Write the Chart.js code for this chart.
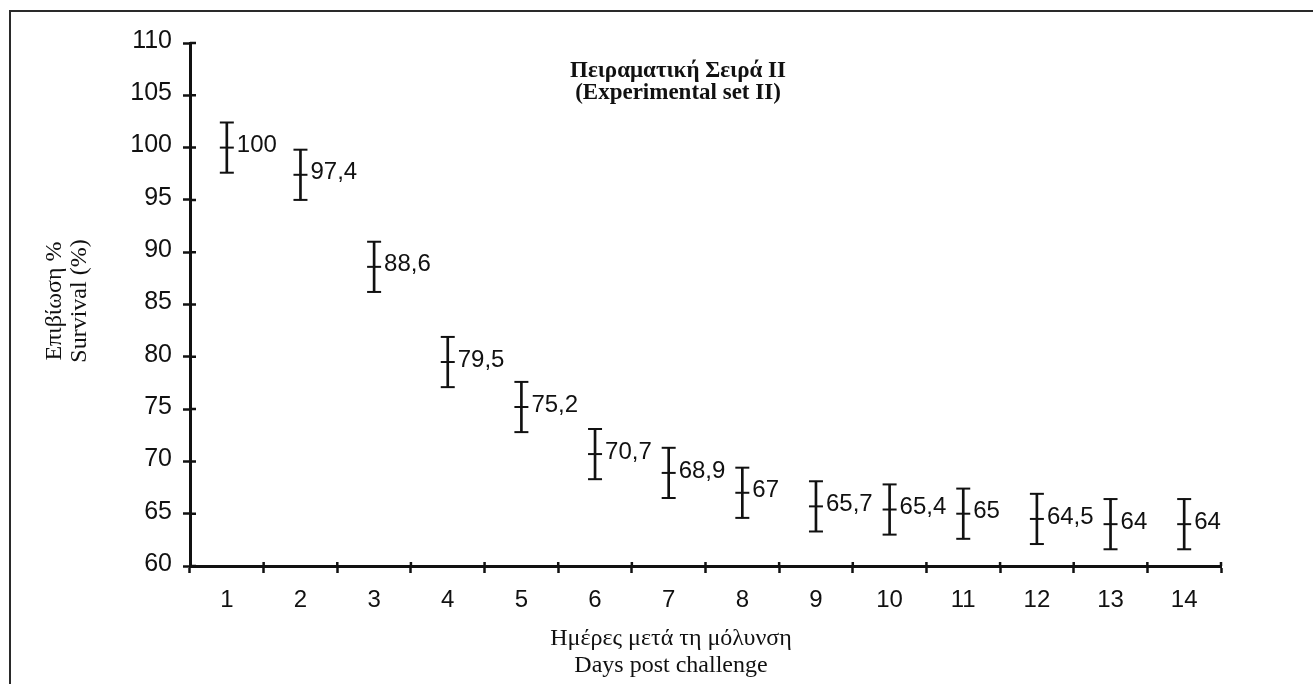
<!DOCTYPE html>
<html>
<head>
<meta charset="utf-8">
<title>Survival – Experimental set II</title>
<script src="https://cdn.jsdelivr.net/npm/chart.js@4.4.1/dist/chart.umd.min.js"></script>
<style>
  html, body { margin: 0; padding: 0; background: #fff; }
  canvas { display: block; }
</style>
</head>
<body>
<canvas id="survival" width="1313" height="684"></canvas>
<script>
// Days after infection (x categories)
const days = ['1', '2', '3', '4', '5', '6', '7', '8', '9', '10', '11', '12', '13', '14'];
// Mean survival per day (%)
const survival = [100, 97.4, 88.6, 79.5, 75.2, 70.7, 68.9, 67, 65.7, 65.4, 65, 64.5, 64, 64];
// Half-width of each error bar (%)
const errors = [2.4, 2.4, 2.4, 2.4, 2.4, 2.4, 2.4, 2.4, 2.4, 2.4, 2.4, 2.4, 2.4, 2.4];
// Value axis range and tick step
const yMin = 60;
const yMax = 110;
const yStep = 5;

const chartTitle = ['Πειραματική Σειρά II', '(Experimental set II)'];
const xTitle = ['Ημέρες μετά τη μόλυνση', 'Days post challenge'];
const yTitle = ['Επιβίωση %', 'Survival (%)'];

const ink = '#111';
const sans = '"Liberation Sans", Arial, Helvetica, sans-serif';
const serif = '"Liberation Serif", "Times New Roman", Times, serif';

const upper = survival.map((v, i) => v + errors[i]);
const lower = survival.map((v, i) => v - errors[i]);
const fmt = v => String(v).replace('.', ',');

// Short horizontal marks (caps and means) drawn as line-shaped points
const markStyle = {
  type: 'line',
  showLine: false,
  pointStyle: 'line',
  pointRadius: 7,
  pointHoverRadius: 7,
  pointBorderWidth: 2,
  pointBorderColor: ink,
  borderColor: ink,
  backgroundColor: ink
};

// Frame, titles and value labels
const decorations = {
  id: 'decorations',
  beforeDraw(chart) {
    const { ctx, width, height } = chart;
    ctx.save();
    ctx.fillStyle = '#fff';
    ctx.fillRect(0, 0, width, height);
    ctx.strokeStyle = '#2a2a2a';
    ctx.lineWidth = 2;
    ctx.beginPath();
    ctx.moveTo(10, height);
    ctx.lineTo(10, 11);
    ctx.lineTo(width, 11);
    ctx.stroke();
    ctx.restore();
  },
  afterDraw(chart) {
    const { ctx } = chart;
    ctx.save();
    ctx.fillStyle = ink;

    // chart title
    ctx.textAlign = 'center';
    ctx.textBaseline = 'alphabetic';
    ctx.font = 'bold 23px ' + serif;
    ctx.fillText(chartTitle[0], 678, 77);
    ctx.fillText(chartTitle[1], 678, 99);

    // x axis title
    ctx.font = '24px ' + serif;
    ctx.fillText(xTitle[0], 671, 645);
    ctx.fillText(xTitle[1], 671, 672);

    // y axis title (rotated)
    ctx.save();
    ctx.translate(0, 301);
    ctx.rotate(-Math.PI / 2);
    ctx.textBaseline = 'middle';
    ctx.fillText(yTitle[0], 0, 55);
    ctx.fillText(yTitle[1], 0, 80);
    ctx.restore();

    // value labels beside each mean mark
    ctx.font = '24px ' + sans;
    ctx.textAlign = 'left';
    ctx.textBaseline = 'middle';
    const meta = chart.getDatasetMeta(3);
    meta.data.forEach((pt, i) => {
      ctx.fillText(fmt(survival[i]), pt.x + 10, pt.y - 2);
    });
    ctx.restore();
  }
};

// Tick marks that also reach a little into the plot area
const innerTicks = {
  id: 'innerTicks',
  afterDraw(chart) {
    const { ctx, chartArea: a, scales: { x, y } } = chart;
    ctx.save();
    ctx.strokeStyle = ink;
    ctx.lineWidth = 2.5;
    ctx.beginPath();
    y.ticks.forEach((t, i) => {
      const py = y.getPixelForTick(i);
      ctx.moveTo(a.left, py);
      ctx.lineTo(a.left + 6, py);
    });
    for (let i = 1; i <= days.length; i++) {
      const px = x.getPixelForValue(i - 0.5);
      ctx.moveTo(px, a.bottom);
      ctx.lineTo(px, a.bottom - 4);
    }
    ctx.stroke();
    ctx.restore();
  }
};

new Chart(document.getElementById('survival'), {
  type: 'bar',
  data: {
    labels: days,
    datasets: [
      {
        type: 'bar',
        data: lower.map((l, i) => [l, upper[i]]),
        backgroundColor: ink,
        borderWidth: 0,
        barThickness: 2
      },
      Object.assign({ data: upper }, markStyle),
      Object.assign({ data: lower }, markStyle),
      Object.assign({ data: survival }, markStyle)
    ]
  },
  options: {
    responsive: false,
    animation: false,
    devicePixelRatio: 1,
    events: [],
    layout: { padding: { top: 43, right: 92, left: 0, bottom: 0 } },
    plugins: {
      legend: { display: false },
      tooltip: { enabled: false },
      title: { display: false }
    },
    scales: {
      x: {
        type: 'category',
        offset: true,
        grid: {
          display: true,
          offset: true,
          drawOnChartArea: false,
          drawTicks: true,
          tickLength: 7,
          tickWidth: 2.5,
          tickColor: ink
        },
        border: { display: true, color: ink, width: 3 },
        ticks: {
          color: ink,
          font: { family: sans, size: 24 },
          padding: 13,
          maxRotation: 0,
          autoSkip: false
        },
        afterFit(scale) { scale.height = 118; }
      },
      y: {
        type: 'linear',
        min: yMin,
        max: yMax,
        grid: {
          display: true,
          drawOnChartArea: false,
          drawTicks: true,
          tickLength: 7,
          tickWidth: 2.5,
          tickColor: ink
        },
        border: { display: true, color: ink, width: 3 },
        ticks: {
          stepSize: yStep,
          color: ink,
          font: { family: sans, size: 25 },
          padding: 11,
          labelOffset: -2
        },
        afterFit(scale) { scale.width = 190; }
      }
    }
  },
  plugins: [decorations, innerTicks]
});
</script>
</body>
</html>
